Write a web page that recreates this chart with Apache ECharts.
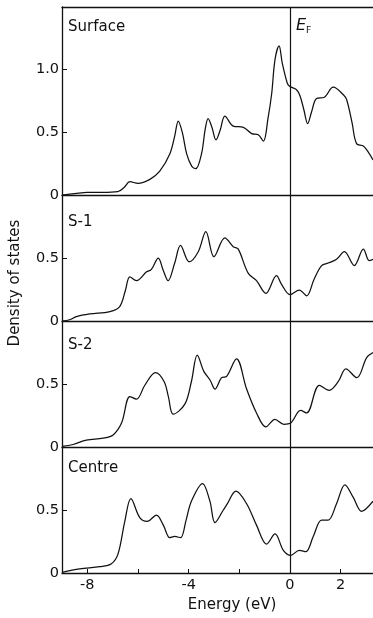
<!DOCTYPE html>
<html>
<head>
<meta charset="utf-8">
<script src="https://cdn.jsdelivr.net/npm/echarts@6/dist/echarts.min.js"></script>
<style>
  html, body { margin: 0; padding: 0; background: #fff; }
  #chart { width: 373px; height: 618px; }
</style>
</head>
<body>
<div id="chart"></div>
<script>
// Layer-resolved density of states (states/eV) versus energy relative to E_F.
const panelNames = ['Surface', 'S-1', 'S-2', 'Centre'];

const surfaceE = [-9.0,-8.5,-8.0,-7.4,-6.8,-6.55,-6.32,-6.0,-5.53,-5.14,-4.74,-4.55,-4.41,-4.25,-4.08,-3.88,-3.72,-3.49,-3.35,-3.23,-3.08,-2.92,-2.75,-2.57,-2.24,-1.84,-1.51,-1.25,-1.05,-0.86,-0.72,-0.59,-0.43,-0.3,-0.1,0.0,0.26,0.4,0.55,0.70,0.85,1.05,1.36,1.71,2.11,2.24,2.45,2.63,2.9,3.1,3.28];
const surfaceDOS = [0,0.01,0.02,0.02,0.026,0.06,0.106,0.093,0.125,0.19,0.33,0.47,0.59,0.50,0.33,0.23,0.21,0.33,0.52,0.61,0.54,0.44,0.52,0.63,0.55,0.54,0.49,0.48,0.43,0.62,0.81,1.08,1.19,1.05,0.89,0.865,0.84,0.79,0.68,0.57,0.66,0.77,0.78,0.86,0.80,0.76,0.58,0.41,0.39,0.34,0.28];

const s1E = [-9.0,-8.7,-8.43,-7.9,-7.11,-6.72,-6.5,-6.32,-6.06,-5.66,-5.47,-5.2,-5.0,-4.81,-4.55,-4.32,-3.98,-3.62,-3.32,-3.0,-2.57,-2.24,-2.04,-1.65,-1.32,-0.95,-0.53,-0.33,0.0,0.37,0.66,0.95,1.25,1.51,1.84,2.15,2.54,2.9,3.13,3.28];
const s1DOS = [0.0,0.01,0.035,0.056,0.075,0.115,0.24,0.35,0.32,0.39,0.41,0.50,0.40,0.32,0.46,0.60,0.47,0.55,0.71,0.51,0.66,0.59,0.57,0.38,0.32,0.22,0.36,0.29,0.21,0.245,0.20,0.33,0.44,0.46,0.49,0.55,0.44,0.57,0.48,0.49];

const s2E = [-9.0,-8.56,-8.04,-7.38,-6.98,-6.65,-6.32,-6.06,-5.73,-5.31,-4.97,-4.8,-4.61,-4.15,-3.89,-3.66,-3.4,-3.15,-2.96,-2.70,-2.5,-2.11,-1.71,-1.32,-0.95,-0.59,-0.24,0.03,0.42,0.66,1.16,1.55,1.91,2.21,2.64,3.03,3.28];
const s2DOS = [0.005,0.02,0.055,0.07,0.096,0.19,0.40,0.38,0.49,0.59,0.52,0.40,0.26,0.34,0.52,0.73,0.60,0.53,0.46,0.55,0.56,0.70,0.46,0.27,0.16,0.22,0.18,0.19,0.29,0.27,0.49,0.45,0.52,0.62,0.55,0.71,0.75];

const centreE = [-9.0,-8.3,-7.5,-7.05,-6.79,-6.52,-6.28,-5.93,-5.64,-5.27,-5.0,-4.74,-4.55,-4.32,-4.1,-3.89,-3.45,-3.16,-2.96,-2.63,-2.5,-2.13,-1.71,-1.32,-0.92,-0.59,-0.26,0.03,0.37,0.63,0.92,1.25,1.51,1.84,2.17,2.5,2.83,3.28];
const centreDOS = [0.005,0.033,0.05,0.074,0.15,0.41,0.59,0.44,0.41,0.46,0.38,0.28,0.29,0.28,0.42,0.57,0.71,0.57,0.40,0.50,0.54,0.65,0.55,0.38,0.23,0.31,0.18,0.14,0.18,0.17,0.29,0.42,0.42,0.55,0.70,0.60,0.49,0.57];

const energyTicks = [-8, -6, -4, -2, 0, 2];
const energyLabels = [-8, -4, 0, 2];
const yMax = [1.5, 1.0, 1.0, 1.0];
const yTickValues = [[0, 0.5, 1.0], [0, 0.5], [0, 0.5], [0, 0.5]];

const xMin = -9, xMax = 3.28;
const ink = '#111';
const fontFamily = 'DejaVu Sans';

const energies = [surfaceE, s1E, s2E, centreE];
const values = [surfaceDOS, s1DOS, s2DOS, centreDOS];

const panelTops = [7, 195, 321, 447];
const panelHeights = [188, 126, 126, 126];

const grids = panelTops.map((t, i) => ({ left: 62, right: 0, top: t, height: panelHeights[i] }));

const xAxes = panelTops.map((t, i) => {
  const last = i === panelTops.length - 1;
  return {
    type: 'value', gridIndex: i, min: xMin, max: xMax, position: 'bottom',
    axisLine: { show: true, onZero: false, lineStyle: { color: ink, width: 1.3 } },
    axisTick: last ? { show: true, inside: true, length: 4, customValues: energyTicks, lineStyle: { color: ink } } : { show: false },
    axisLabel: last ? { show: true, customValues: energyLabels, margin: 5, color: ink, fontSize: 14.5, fontFamily } : { show: false },
    splitLine: { show: false }
  };
});
// top frame line of the upper panel
xAxes.push({
  type: 'value', gridIndex: 0, min: xMin, max: xMax, position: 'top',
  axisLine: { show: true, onZero: false, lineStyle: { color: ink, width: 1.3 } },
  axisTick: { show: false }, axisLabel: { show: false }, splitLine: { show: false }
});

const yAxes = panelTops.map((t, i) => ({
  type: 'value', gridIndex: i, min: 0, max: yMax[i],
  axisLine: { show: true, onZero: false, lineStyle: { color: ink, width: 1.3 } },
  axisTick: { show: true, inside: true, length: 5, customValues: yTickValues[i], lineStyle: { color: ink } },
  axisLabel: {
    show: true, customValues: yTickValues[i], margin: 3, color: ink, fontSize: 14.5, fontFamily,
    formatter: v => (v === 0 ? '0' : v.toFixed(1))
  },
  splitLine: { show: false }
}));

const series = energies.map((xs, i) => ({
  type: 'line', xAxisIndex: i, yAxisIndex: i,
  data: xs.map((e, k) => [e, values[i][k]]),
  smooth: 0.35, symbol: 'none',
  lineStyle: { color: ink, width: 1.25 },
  markLine: {
    silent: true, symbol: 'none', label: { show: false },
    lineStyle: { color: ink, width: 1.2, type: 'solid' },
    data: [{ xAxis: 0 }]
  }
}));

const labelTops = [29, 224, 347, 470];
const graphic = panelNames.map((name, i) => ({
  type: 'text', left: 68, top: labelTops[i] - 9,
  style: { text: name, fill: ink, font: '15px "DejaVu Sans"' }
}));
graphic.push({
  type: 'text', left: 296, top: 18,
  style: {
    text: '{e|E}{f|F}', fill: ink,
    rich: {
      e: { fontSize: 16, fontStyle: 'italic', fontFamily, fill: ink },
      f: { fontSize: 9, fontFamily, fill: ink, padding: [9, 0, 0, 0] }
    }
  }
});
graphic.push({
  type: 'text', x: 15, y: 283, rotation: Math.PI / 2,
  style: { text: 'Density of states', fill: ink, font: '15px "DejaVu Sans"', align: 'center', verticalAlign: 'middle' }
});
graphic.push({
  type: 'text', x: 232, y: 605,
  style: { text: 'Energy (eV)', fill: ink, font: '15px "DejaVu Sans"', align: 'center', verticalAlign: 'middle' }
});

const chart = echarts.init(document.getElementById('chart'), null, { renderer: 'canvas' });
chart.setOption({
  animation: false,
  backgroundColor: '#fff',
  grid: grids,
  xAxis: xAxes,
  yAxis: yAxes,
  series,
  graphic
});
</script>
</body>
</html>
